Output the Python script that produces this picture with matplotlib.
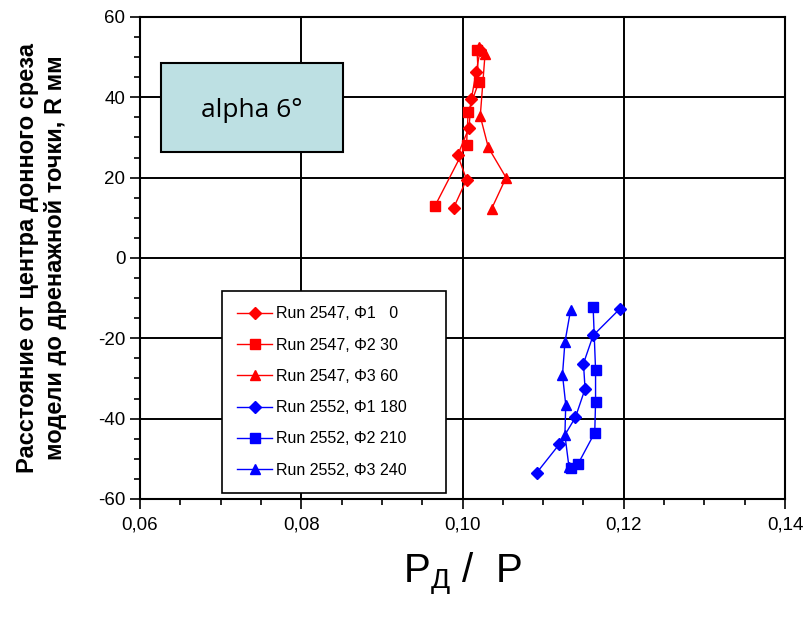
import numpy as np
import matplotlib.pyplot as plt
from matplotlib.ticker import MultipleLocator
from matplotlib.patches import Rectangle

plt.rcParams['font.family'] = ['Liberation Sans', 'DejaVu Sans']
plt.rcParams['axes.unicode_minus'] = False

# Run 2547 (red)
r1_x = [0.0989, 0.1005, 0.0994, 0.1008, 0.1011, 0.1017, 0.1022]
r1_y = [12.5, 19.5, 25.6, 32.4, 39.6, 46.4, 51.8]
r2_x = [0.0966, 0.1005, 0.1007, 0.1020, 0.1018]
r2_y = [13.0, 28.2, 36.4, 43.7, 51.7]
r3_x = [0.1036, 0.1054, 0.1032, 0.1022, 0.1028, 0.1021]
r3_y = [12.2, 20.0, 27.5, 35.3, 50.9, 52.6]

# Run 2552 (blue)
b1_x = [0.1195, 0.1162, 0.1150, 0.1152, 0.1140, 0.1120, 0.1092]
b1_y = [-12.7, -19.3, -26.3, -32.6, -39.7, -46.4, -53.5]
b2_x = [0.1162, 0.1165, 0.1165, 0.1164, 0.1143, 0.1134]
b2_y = [-12.3, -27.8, -35.9, -43.5, -51.4, -52.2]
b3_x = [0.1134, 0.1127, 0.1124, 0.1128, 0.1127, 0.1132]
b3_y = [-13.0, -21.0, -29.1, -36.5, -44.1, -52.0]

labels = ['Run 2547, Φ1   0', 'Run 2547, Φ2 30', 'Run 2547, Φ3 60',
          'Run 2552, Φ1 180', 'Run 2552, Φ2 210', 'Run 2552, Φ3 240']

xticks = [0.06, 0.08, 0.10, 0.12, 0.14]
xtick_labels = ['0,06', '0,08', '0,10', '0,12', '0,14']
yticks = [-60, -40, -20, 0, 20, 40, 60]

fig = plt.figure(figsize=(8.11, 6.19), dpi=100)
ax = fig.add_axes([0.1726, 0.194, 0.7954, 0.7786])

series = [(r1_x, r1_y, 'red', 'D', 6.5), (r2_x, r2_y, 'red', 's', 7),
          (r3_x, r3_y, 'red', '^', 7.5),
          (b1_x, b1_y, 'blue', 'D', 6.5), (b2_x, b2_y, 'blue', 's', 7),
          (b3_x, b3_y, 'blue', '^', 7.5)]
for (x, y, c, m, ms), lab in zip(series, labels):
    ax.plot(x, y, color=c, marker=m, markersize=ms, linewidth=1, label=lab)

ax.set_xlim(0.06, 0.14)
ax.set_ylim(-60, 60)
ax.set_xticks(xticks)
ax.set_xticklabels(xtick_labels)
ax.set_yticks(yticks)
ax.xaxis.set_minor_locator(MultipleLocator(0.005))
ax.yaxis.set_minor_locator(MultipleLocator(5))
ax.tick_params(which='major', direction='out', length=7, width=1.2, labelsize=13.5, colors='black')
ax.tick_params(which='minor', direction='out', length=4, width=1.2)
ax.tick_params(axis='x', pad=6)
ax.grid(True, which='major', color='black', linewidth=1.4)
for s in ax.spines.values():
    s.set_linewidth(1.5)

ax.set_ylabel('Расстояние от центра донного среза\nмодели до дренажной точки, R мм',
              fontsize=17, fontweight='bold', labelpad=22, linespacing=1.3)
ax.set_xlabel(r'$\mathregular{Р_{Д}}$ /  Р', fontsize=29, labelpad=12)

ax.add_patch(Rectangle((0.0326, 0.72), 0.282, 0.185, transform=ax.transAxes,
                       facecolor='#bde0e3', edgecolor='black', linewidth=1.5, zorder=5))
ax.text(0.1736, 0.805, 'alpha 6°', transform=ax.transAxes, fontsize=19,
        family=['Open Sans', 'DejaVu Sans'], ha='center', va='center', zorder=6)

leg = ax.legend(loc='lower left', bbox_to_anchor=(0.127, 0.0124, 0.347, 0.4), mode='expand',
                prop=dict(size=11.5),
                frameon=True, fancybox=False, edgecolor='black', framealpha=1,
                handlelength=2.2, labelspacing=1.02, borderpad=0.95, handletextpad=0.25,
                borderaxespad=0)
leg.get_frame().set_linewidth(1.2)

plt.savefig('out.png', dpi=100)
